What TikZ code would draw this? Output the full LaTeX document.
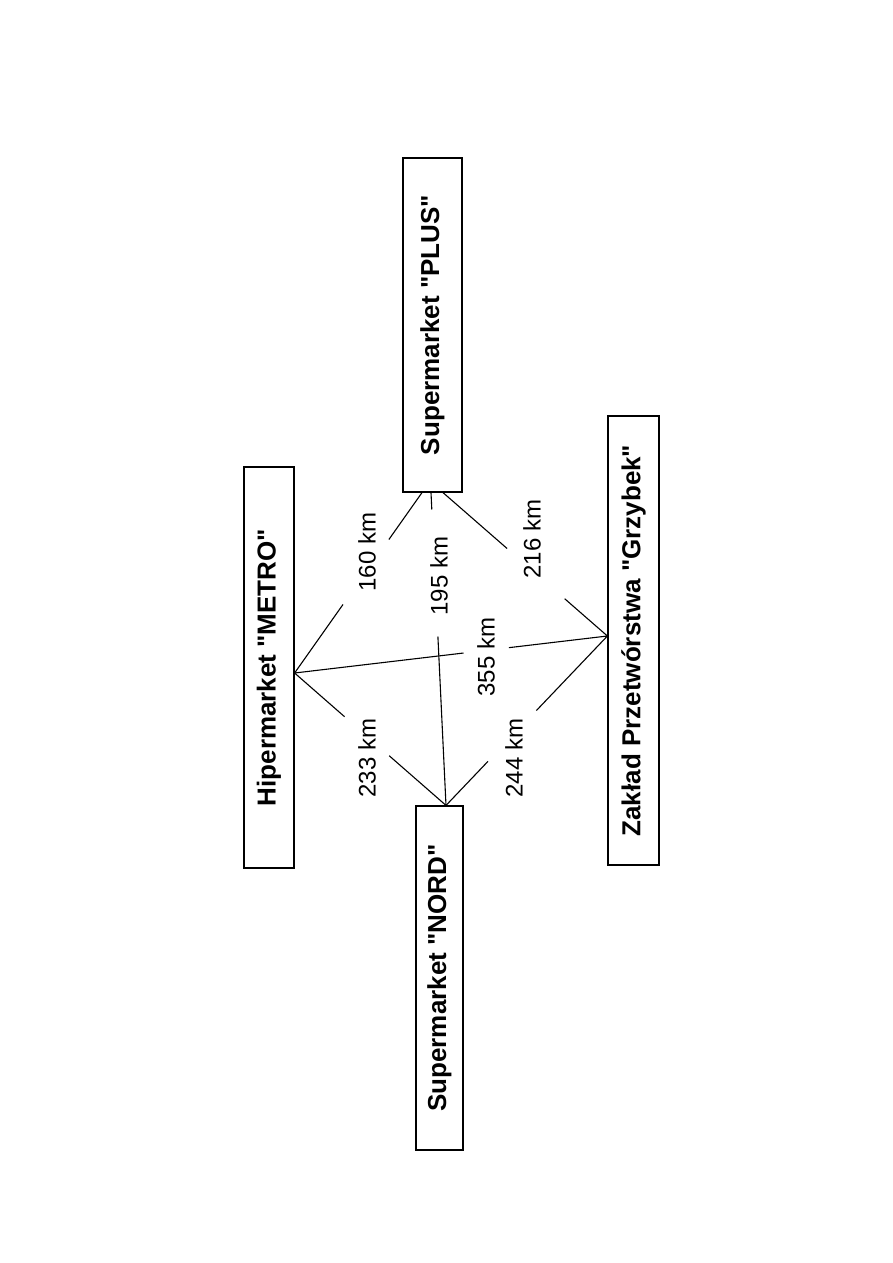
\documentclass[tikz,border=0pt]{standalone}
\usepackage{fontspec}
\setmainfont{Liberation Sans}[Ligatures=TeXOff]
\usetikzlibrary{calc}
\begin{document}
\begin{tikzpicture}[x=1pt,y=-1pt,
  box/.style={draw,line width=1.2pt,inner sep=0pt,rotate=90,
    font=\bfseries\fontsize{26}{31}\selectfont},
  dist/.style={inner sep=0pt,rotate=90,font=\fontsize{24}{28}\selectfont},
  link/.style={line width=1.1pt}]
\useasboundingbox (0,0) rectangle (893,1263);
% boxes
\node[box,minimum width=401pt,minimum height=50pt] (metro) at (269,667.5) {Hipermarket "METRO"};
\node[box,minimum width=334pt,minimum height=59pt] (plus) at (432.5,325) {Supermarket "PLUS"};
\node[box,minimum width=344pt,minimum height=47pt] (nord) at (439.5,978) {Supermarket "NORD"};
\node[box,minimum width=449pt,minimum height=51pt] (grz) at (633.5,640.5) {Zakład Przetwórstwa "Grzybek"};
% attachment points
\coordinate (mE) at ($(metro.south)+(0,5.5)$);
\coordinate (pA) at ($(plus.west)+(-10.5,0)$);
\coordinate (pB) at ($(plus.west)+(-1.5,0)$);
\coordinate (pC) at ($(plus.west)+(10.5,0)$);
\coordinate (nT) at ($(nord.east)+(6.5,0)$);
\coordinate (gW) at ($(grz.north)+(0,-4.5)$);
% gap ends
\coordinate (a1) at ($(mE)!0.38!(pA)$); \coordinate (a2) at ($(mE)!0.74!(pA)$);
\coordinate (b1) at ($(pB)!0.054!(nT)$); \coordinate (b2) at ($(pB)!0.46!(nT)$);
\coordinate (c1) at ($(pC)!0.39!(gW)$); \coordinate (c2) at ($(pC)!0.74!(gW)$);
\coordinate (d1) at ($(mE)!0.54!(gW)$); \coordinate (d2) at ($(mE)!0.685!(gW)$);
\coordinate (e1) at ($(mE)!0.33!(nT)$); \coordinate (e2) at ($(mE)!0.625!(nT)$);
\coordinate (f1) at ($(nT)!0.26!(gW)$); \coordinate (f2) at ($(nT)!0.56!(gW)$);
% connectors
\draw[link] (mE) -- (a1) (a2) -- (pA);
\draw[link] (pB) -- (b1) (b2) -- (nT);
\draw[link] (pC) -- (c1) (c2) -- (gW);
\draw[link] (mE) -- (d1) (d2) -- (gW);
\draw[link] (mE) -- (e1) (e2) -- (nT);
\draw[link] (nT) -- (f1) (f2) -- (gW);
% labels
\node[dist] (l160) at (367,552) {160 km};
\node[dist] (l195) at (439,576) {195 km};
\node[dist] (l216) at (532,539) {216 km};
\node[dist] (l355) at (486,657) {355 km};
\node[dist] (l233) at (367,758) {233 km};
\node[dist] (l244) at (514,758) {244 km};
\end{tikzpicture}
\end{document}
